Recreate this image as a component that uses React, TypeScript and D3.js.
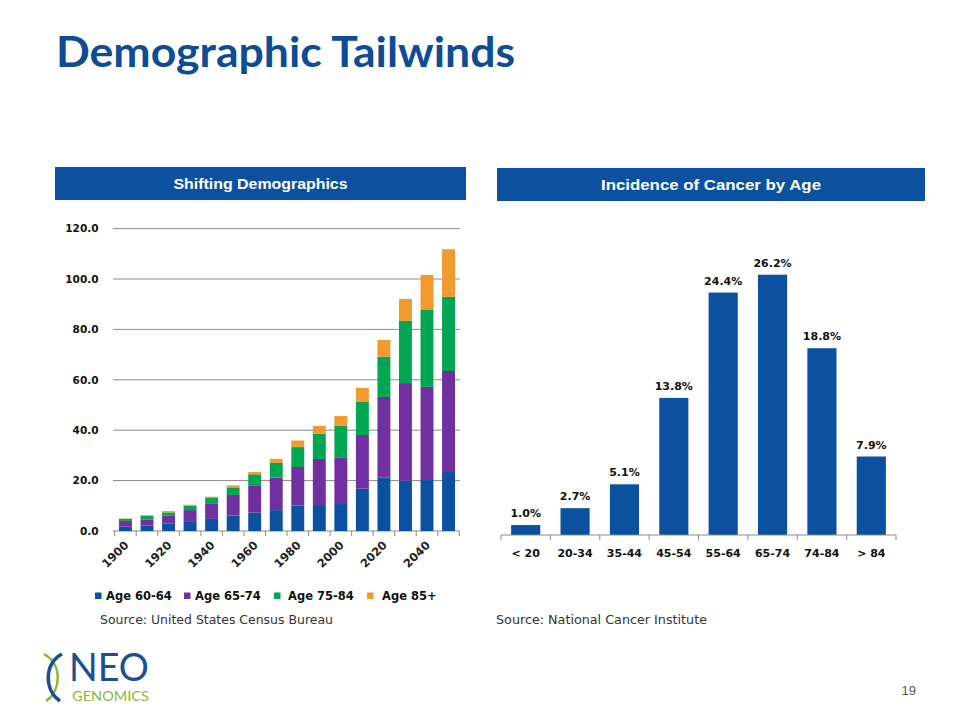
import React from "react";
import * as d3 from "d3";

const years = ["1900","1910","1920","1930","1940","1950","1960","1970","1980","1990","2000","2010","2020","2030","2040","2050"];
const seriesNames = ["Age 60-64", "Age 65-74", "Age 75-84", "Age 85+"];
const age6064 = [1.7, 2.2, 2.9, 3.6, 4.8, 6.1, 7.3, 8.3, 10.1, 10.3, 10.7, 16.8, 21.2, 20.0, 20.2, 23.4];
const age6574 = [2.3, 2.4, 3.3, 4.7, 6.2, 8.2, 10.6, 12.9, 15.3, 18.3, 18.3, 21.3, 32.0, 38.7, 37.0, 40.1];
const age7584 = [0.8, 1.4, 1.2, 1.7, 2.1, 3.0, 4.6, 5.8, 7.9, 10.0, 12.7, 13.1, 16.0, 24.7, 30.5, 29.4];
const age85 = [0.2, 0.3, 0.5, 0.4, 0.5, 0.8, 0.9, 1.6, 2.6, 3.1, 3.9, 5.6, 6.6, 8.7, 13.9, 18.9];
const leftTicks = [0, 20, 40, 60, 80, 100, 120];
const yearLabels = ["1900","1920","1940","1960","1980","2000","2020","2040"];

const ageGroups = ["< 20", "20-34", "35-44", "45-54", "55-64", "65-74", "74-84", "> 84"];
const incidence = [1.0, 2.7, 5.1, 13.8, 24.4, 26.2, 18.8, 7.9];

const colors = ["#0B51A0", "#7030A0", "#00A651", "#F09A30"];
const FONT = "'DejaVu Sans', Verdana, sans-serif";

export default function App() {
  const seriesVals = [age6064, age6574, age7584, age85];
  const rows = years.map((y, i) => {
    const r: any = { year: y };
    seriesNames.forEach((s, k) => (r[s] = seriesVals[k][i]));
    return r;
  });
  const stacked = d3.stack().keys(seriesNames)(rows);

  const xL = d3.scaleBand().domain(years).range([114.7, 459.3]).paddingInner(0.4).paddingOuter(0.2);
  const yL = d3.scaleLinear().domain([0, 120]).range([531, 228.6]);
  const stepL = xL.step();

  const xR = d3.scaleBand().domain(ageGroups).range([501, 896]).paddingInner(0.41).paddingOuter(0.205);
  const yR = d3.scaleLinear().domain([0, 30]).range([535, 236.95]);
  const stepR = xR.step();

  const legendSquareX = [95, 184, 274, 367];
  const legendTextX = [106, 195, 288, 382];

  return (
    <svg width={960} height={720} style={{ position: "absolute", left: 0, top: 0, background: "#fff" }}>
      {/* Title */}
      <text x={56} y={67} fontFamily="Lato, 'Open Sans', sans-serif" fontWeight={700} fontSize={42} fill="#0E4C93" textLength={459} lengthAdjust="spacingAndGlyphs">
        Demographic Tailwinds
      </text>

      {/* Header boxes */}
      <rect x={55} y={167} width={411} height={33} fill="#0B51A0" />
      <text x={260.5} y={188.5} textAnchor="middle" fontFamily="'Liberation Sans', Arial, sans-serif" fontWeight={700} fontSize={15} fill="#fff" textLength={174} lengthAdjust="spacingAndGlyphs">
        Shifting Demographics
      </text>
      <rect x={497} y={168} width={428} height={33} fill="#0B51A0" />
      <text x={711} y={189.5} textAnchor="middle" fontFamily="'Liberation Sans', Arial, sans-serif" fontWeight={700} fontSize={15} fill="#fff" textLength={220} lengthAdjust="spacingAndGlyphs">
        Incidence of Cancer by Age
      </text>

      {/* Left chart gridlines */}
      {leftTicks.map((t) => (
        <g key={t}>
          <line x1={113} x2={460} y1={yL(t)} y2={yL(t)} stroke="#8c8c8c" strokeWidth={1} />
          <text x={98.5} y={yL(t)} dy="0.36em" textAnchor="end" fontFamily={FONT} fontWeight={700} fontSize={10.5} fill="#111">
            {t.toFixed(1)}
          </text>
        </g>
      ))}
      {/* Left ticks */}
      {d3.range(years.length + 1).map((i) => (
        <line key={i} x1={114.7 + i * stepL} x2={114.7 + i * stepL} y1={531} y2={536} stroke="#8c8c8c" />
      ))}
      {/* stacked bars */}
      {stacked.map((layer, k) => (
        <g key={layer.key} fill={colors[k]}>
          {layer.map((d, i) => (
            <rect key={i} x={xL(years[i])} width={xL.bandwidth()} y={yL(d[1])} height={yL(d[0]) - yL(d[1])} />
          ))}
        </g>
      ))}
      {/* year labels */}
      {yearLabels.map((y) => (
        <text key={y} transform={`translate(${(xL(y) as number) + xL.bandwidth() / 2 + 1},${543}) rotate(-45)`} textAnchor="end" dy="0.35em" fontFamily={FONT} fontWeight={700} fontSize={11.5} fill="#222">
          {y}
        </text>
      ))}
      {/* legend */}
      {seriesNames.map((s, k) => (
        <g key={s}>
          <rect x={legendSquareX[k]} y={592.5} width={6.5} height={6.5} fill={colors[k]} />
          <text x={legendTextX[k]} y={599.5} fontFamily={FONT} fontWeight={700} fontSize={11.5} fill="#111">
            {s}
          </text>
        </g>
      ))}
      <text x={100} y={624} fontFamily={FONT} fontSize={12} fill="#333" textLength={233} lengthAdjust="spacingAndGlyphs">
        Source: United States Census Bureau
      </text>

      {/* Right chart */}
      {incidence.map((v, i) => (
        <g key={ageGroups[i]}>
          <rect x={xR(ageGroups[i])} width={xR.bandwidth()} y={yR(v)} height={yR(0) - yR(v)} fill="#0B51A0" />
          <text x={(xR(ageGroups[i]) as number) + xR.bandwidth() / 2} y={yR(v) - 8} textAnchor="middle" fontFamily={FONT} fontWeight={700} fontSize={11} fill="#111">
            {v.toFixed(1) + "%"}
          </text>
          <text x={(xR(ageGroups[i]) as number) + xR.bandwidth() / 2} y={557} textAnchor="middle" fontFamily={FONT} fontWeight={700} fontSize={11} fill="#111">
            {ageGroups[i]}
          </text>
        </g>
      ))}
      <line x1={501} x2={896} y1={535} y2={535} stroke="#8c8c8c" />
      {d3.range(ageGroups.length + 1).map((i) => (
        <line key={i} x1={501 + i * stepR} x2={501 + i * stepR} y1={535} y2={540} stroke="#8c8c8c" />
      ))}
      <text x={496} y={624} fontFamily={FONT} fontSize={12} fill="#333" textLength={211} lengthAdjust="spacingAndGlyphs">
        Source: National Cancer Institute
      </text>

      {/* Logo */}
      <path d="M 44 654 C 62 664, 62 690, 46 701" fill="none" stroke="#8DB53F" strokeWidth={2.5} />
      <path d="M 62 654 C 44 664, 44 690, 60 701" fill="none" stroke="#1B4F91" strokeWidth={3.5} />
      <text x={69} y={681} fontFamily="Lato, 'Open Sans', sans-serif" fontSize={39} fill="#1B4F91" textLength={80} lengthAdjust="spacingAndGlyphs">
        NEO
      </text>
      <text x={72} y={701} fontFamily="Lato, 'Open Sans', sans-serif" fontSize={13} fill="#8DB53F" textLength={77} lengthAdjust="spacingAndGlyphs">
        GENOMICS
      </text>

      {/* page number */}
      <text x={916} y={695} textAnchor="end" fontFamily="'Liberation Sans', Arial, sans-serif" fontSize={13} fill="#595959">
        19
      </text>
    </svg>
  );
}
